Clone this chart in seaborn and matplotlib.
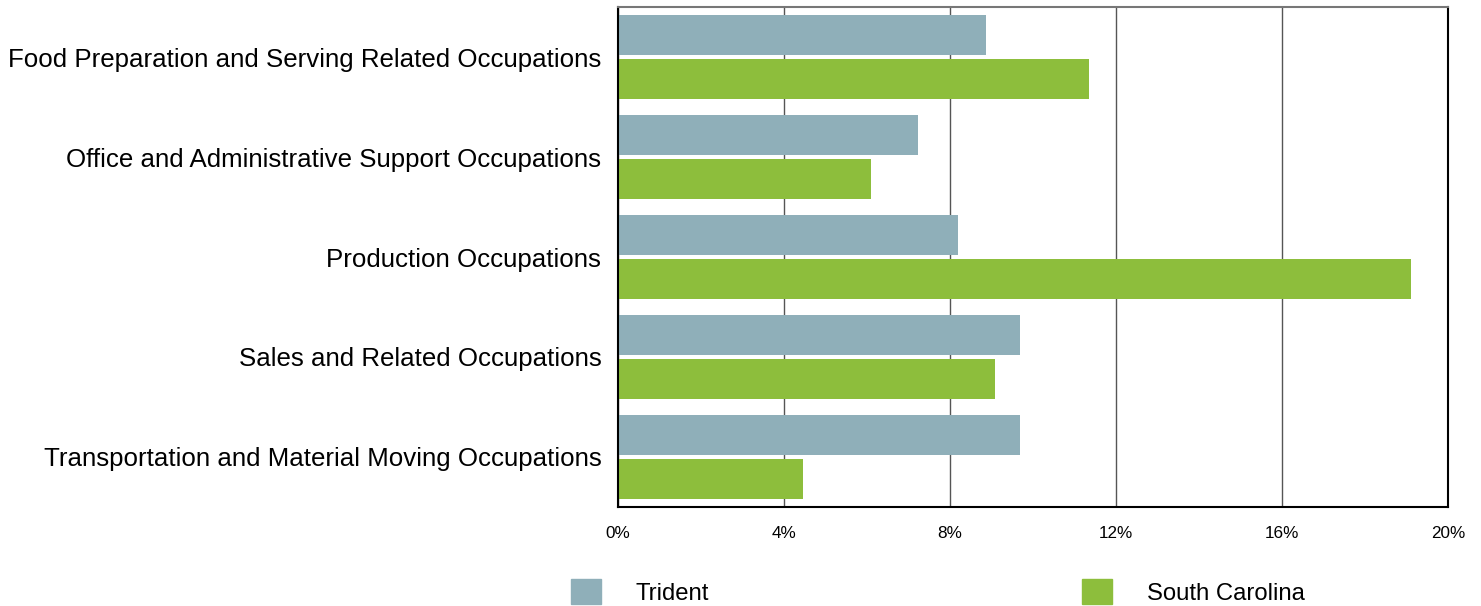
import pandas as pd
import matplotlib
matplotlib.use("Agg")
import matplotlib.pyplot as plt
import matplotlib.patches as mpatches
import seaborn as sns

occupations = [
    "Food Preparation and Serving Related Occupations",
    "Office and Administrative Support Occupations",
    "Production Occupations",
    "Sales and Related Occupations",
    "Transportation and Material Moving Occupations",
]
trident = [8.87, 7.23, 8.19, 9.69, 9.69]
south_carolina = [11.35, 6.10, 19.10, 9.08, 4.46]
regions = ["Trident", "South Carolina"]
colors = ["#8fafb9", "#8dbe3c"]
x_ticks = [0, 4, 8, 12, 16, 20]


def build_frame():
    """Long-form table for seaborn."""
    rows = []
    for occ, t, s in zip(occupations, trident, south_carolina):
        rows.append({"Occupation": occ, "Region": regions[0], "Share": t})
        rows.append({"Occupation": occ, "Region": regions[1], "Share": s})
    return pd.DataFrame(rows)


def plot_chart(df):
    sns.set_style("white")
    plt.rcParams["font.family"] = ["Liberation Sans", "DejaVu Sans"]
    plt.rcParams["text.color"] = "black"
    plt.rcParams["xtick.color"] = "black"
    plt.rcParams["ytick.color"] = "black"

    fig = plt.figure(figsize=(14.81, 6.06), dpi=100)
    ax = fig.add_axes([0.4173, 0.1634, 0.5604, 0.8250])

    sns.barplot(data=df, y="Occupation", x="Share", hue="Region",
                order=occupations, hue_order=regions, palette=colors,
                orient="h", width=0.87, gap=0.09, saturation=1,
                linewidth=0, legend=False, ax=ax, zorder=3)

    ax.set_xlim(0, 20)
    ax.set_ylim(len(occupations) - 0.5, -0.5)
    ax.set_xticks(x_ticks)
    ax.set_xticklabels([f"{v}%" for v in x_ticks], fontsize=12.3)
    ax.tick_params(axis="x", length=0, pad=14, colors="black")
    ax.tick_params(axis="y", length=0, pad=12, labelsize=18.6, colors="black")
    ax.set_xlabel("")
    ax.set_ylabel("")

    ax.grid(axis="x", color="#555555", linewidth=1, zorder=0)
    ax.grid(axis="y", visible=False)
    for side in ["left", "right", "bottom"]:
        ax.spines[side].set_color("black")
        ax.spines[side].set_linewidth(1.5)
        ax.spines[side].set_zorder(5)
    ax.spines["top"].set_color("#777777")
    ax.spines["top"].set_linewidth(1.5)
    ax.spines["top"].set_zorder(5)

    # legend, two entries spread out under the plot
    positions = [0.3855, 0.7306]
    for region, color, xpos in zip(regions, colors, positions):
        handle = mpatches.Patch(color=color, label=region)
        fig.legend(handles=[handle], loc="center left",
                   bbox_to_anchor=(xpos, 0.023), frameon=False,
                   fontsize=17.2, handlelength=1.25, handleheight=1.2,
                   handletextpad=1.45, borderpad=0, borderaxespad=0)

    fig.savefig("out.png", dpi=100)


if __name__ == "__main__":
    df = build_frame()
    plot_chart(df)
